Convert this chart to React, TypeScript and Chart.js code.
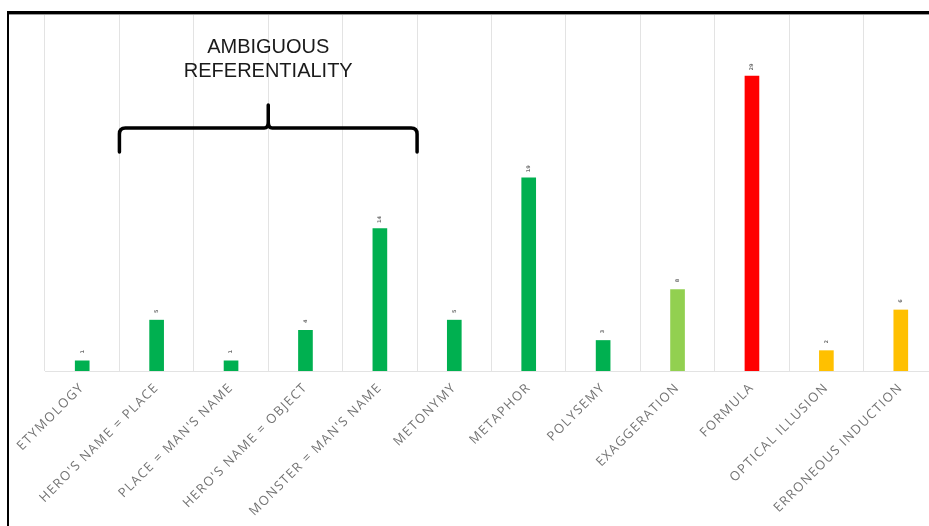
import { useEffect, useRef } from 'react';
import { Chart, registerables } from 'chart.js';

Chart.register(...registerables);

const categories = [
  'ETYMOLOGY',
  "HERO'S NAME = PLACE",
  "PLACE = MAN'S NAME",
  "HERO'S NAME = OBJECT",
  "MONSTER = MAN'S NAME",
  'METONYMY',
  'METAPHOR',
  'POLYSEMY',
  'EXAGGERATION',
  'FORMULA',
  'OPTICAL ILLUSION',
  'ERRONEOUS INDUCTION',
];
const values = [1, 5, 1, 4, 14, 5, 19, 3, 8, 29, 2, 6];
const barColors = [
  '#00B050', '#00B050', '#00B050', '#00B050', '#00B050', '#00B050',
  '#00B050', '#00B050', '#92D050', '#FF0000', '#FFC000', '#FFC000',
];
const bracketLines = ['AMBIGUOUS', 'REFERENTIALITY'];
const bracketFirst = 1;
const bracketLast = 4;

const W = 960;
const H = 526;

const annotationPlugin = {
  id: 'annot',
  afterDatasetsDraw(chart: any) {
    const ctx = chart.ctx;
    const xs = chart.scales.x;
    const meta = chart.getDatasetMeta(0);
    ctx.save();
    ctx.fillStyle = '#6f6f6f';
    ctx.font = 'bold 5px "DejaVu Sans"';
    ctx.textAlign = 'center';
    ctx.textBaseline = 'middle';
    meta.data.forEach((bar: any, i: number) => {
      ctx.save();
      ctx.translate(bar.x, bar.y - 9);
      ctx.rotate(-Math.PI / 2);
      ctx.fillText(String(values[i]), 0, 0);
      ctx.restore();
    });
    ctx.restore();

    const left = (xs.getPixelForValue(bracketFirst - 1) + xs.getPixelForValue(bracketFirst)) / 2;
    const right = (xs.getPixelForValue(bracketLast) + xs.getPixelForValue(bracketLast + 1)) / 2;
    const mid = (left + right) / 2;
    const yBar = 128;
    const yEnd = 152;
    const yTip = 105;
    const r = 6;
    ctx.save();
    ctx.strokeStyle = '#000';
    ctx.lineWidth = 3.5;
    ctx.lineCap = 'round';
    ctx.lineJoin = 'round';
    ctx.beginPath();
    ctx.moveTo(left, yEnd);
    ctx.lineTo(left, yBar + r);
    ctx.quadraticCurveTo(left, yBar, left + r, yBar);
    ctx.lineTo(mid - 4, yBar);
    ctx.quadraticCurveTo(mid, yBar, mid, yBar - 6);
    ctx.lineTo(mid, yTip);
    ctx.moveTo(mid, yBar - 6);
    ctx.quadraticCurveTo(mid, yBar, mid + 4, yBar);
    ctx.lineTo(right - r, yBar);
    ctx.quadraticCurveTo(right, yBar, right, yBar + r);
    ctx.lineTo(right, yEnd);
    ctx.stroke();

    ctx.fillStyle = '#1a1a1a';
    ctx.font = '20px "Liberation Sans"';
    ctx.textAlign = 'center';
    ctx.textBaseline = 'alphabetic';
    ctx.fillText(bracketLines[0], mid, 53);
    ctx.fillText(bracketLines[1], mid, 77);
    ctx.restore();
  },
};

const spacingPlugin = {
  id: 'spacing',
  beforeDraw(chart: any) {
    chart.ctx.letterSpacing = '1.3px';
  },
  afterDatasetsDraw(chart: any) {
    chart.ctx.letterSpacing = '0px';
  },
};

export default function App() {
  const ref = useRef<HTMLCanvasElement | null>(null);
  useEffect(() => {
    if (!ref.current) return;
    const chart = new Chart(ref.current, {
      type: 'bar',
      data: {
        labels: categories,
        datasets: [
          {
            data: values,
            backgroundColor: barColors,
            borderWidth: 0,
            barThickness: 14,
          },
        ],
      },
      options: {
        animation: false,
        responsive: false,
        devicePixelRatio: 1,
        layout: { padding: { top: 15, left: 45, right: 22, bottom: 0 } },
        plugins: { legend: { display: false }, tooltip: { enabled: false } },
        scales: {
          y: { display: false, min: 0, max: 35 },
          x: {
            afterFit: (s: any) => {
              s.height = 155;
            },
            grid: { display: true, offset: true, color: '#e3e3e3', lineWidth: 1, drawTicks: false },
            border: { display: true, color: '#e3e3e3' },
            ticks: {
              autoSkip: false,
              minRotation: 45,
              maxRotation: 45,
              padding: 9,
              color: '#737373',
              font: { family: '"Open Sans"', size: 13, weight: 'normal' },
            },
          },
        },
      },
      plugins: [spacingPlugin, annotationPlugin],
    });
    return () => chart.destroy();
  }, []);

  return (
    <div style={{ position: 'fixed', left: 0, top: 0, width: 929, height: 526, overflow: 'hidden', background: '#fff' }}>
      <canvas ref={ref} width={W} height={H} style={{ position: 'absolute', left: 0, top: 0, width: W, height: H }} />
      <div style={{ position: 'absolute', left: 7, top: 11, width: 1000, height: 3, background: '#000' }} />
      <div style={{ position: 'absolute', left: 7, top: 14, width: 1000, height: 1, background: '#9a9a9a' }} />
      <div style={{ position: 'absolute', left: 7, top: 11, width: 2, height: 600, background: '#000' }} />
    </div>
  );
}
